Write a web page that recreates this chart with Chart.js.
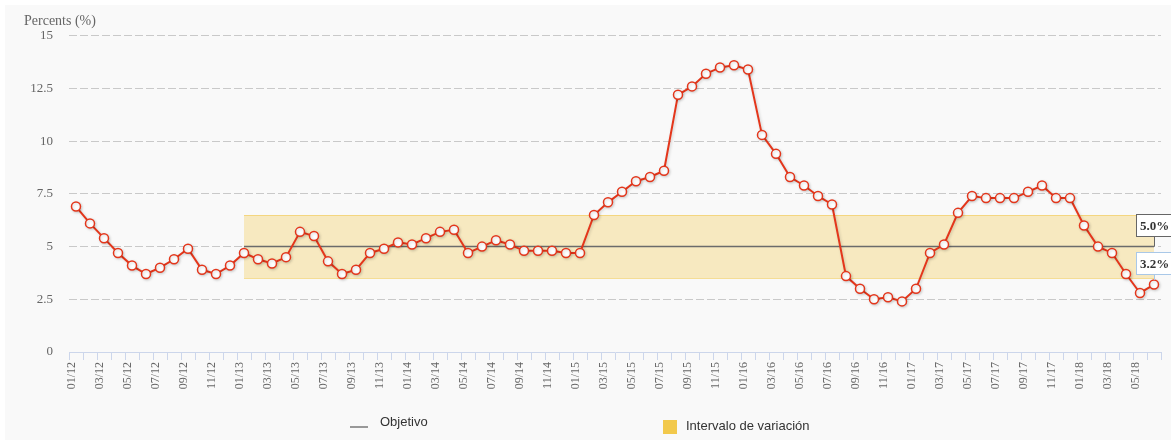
<!DOCTYPE html>
<html>
<head>
<meta charset="utf-8">
<title>Inflación</title>
<script src="https://cdn.jsdelivr.net/npm/chart.js@4.4.1/dist/chart.umd.min.js"></script>
<style>
  html, body { margin: 0; padding: 0; background: #fff; }
  #wrap { position: absolute; left: 5px; top: 5px; width: 1166px; height: 435px; background: #f9f9f9; }
  #chart { position: absolute; left: 0; top: 0; }
  .leg { position: absolute; font-family: "Liberation Sans", Arial, sans-serif; font-size: 13px; color: #333; line-height: 16px; white-space: nowrap; }
</style>
</head>
<body>
<div id="wrap"></div>
<canvas id="chart" width="1171" height="442"></canvas>

<div style="position:absolute;left:350px;top:426px;width:18px;height:2px;background:#999;"></div>
<div class="leg" style="left:380px;top:414px;">Objetivo</div>
<div style="position:absolute;left:663px;top:420px;width:14px;height:14px;background:#f2c94c;"></div>
<div class="leg" style="left:686px;top:418px;">Intervalo de variación</div>

<script>
// months, 01/12 .. 06/18
const meses = [
  '01/12','02/12','03/12','04/12','05/12','06/12','07/12','08/12','09/12','10/12','11/12','12/12',
  '01/13','02/13','03/13','04/13','05/13','06/13','07/13','08/13','09/13','10/13','11/13','12/13',
  '01/14','02/14','03/14','04/14','05/14','06/14','07/14','08/14','09/14','10/14','11/14','12/14',
  '01/15','02/15','03/15','04/15','05/15','06/15','07/15','08/15','09/15','10/15','11/15','12/15',
  '01/16','02/16','03/16','04/16','05/16','06/16','07/16','08/16','09/16','10/16','11/16','12/16',
  '01/17','02/17','03/17','04/17','05/17','06/17','07/17','08/17','09/17','10/17','11/17','12/17',
  '01/18','02/18','03/18','04/18','05/18','06/18'
];

// inflation, percent
const inflacion = [
  6.9, 6.1, 5.4, 4.7, 4.1, 3.7, 4.0, 4.4, 4.9, 3.9, 3.7, 4.1,
  4.7, 4.4, 4.2, 4.5, 5.7, 5.5, 4.3, 3.7, 3.9, 4.7, 4.9, 5.2,
  5.1, 5.4, 5.7, 5.8, 4.7, 5.0, 5.3, 5.1, 4.8, 4.8, 4.8, 4.7,
  4.7, 6.5, 7.1, 7.6, 8.1, 8.3, 8.6, 12.2, 12.6, 13.2, 13.5, 13.6,
  13.4, 10.3, 9.4, 8.3, 7.9, 7.4, 7.0, 3.6, 3.0, 2.5, 2.6, 2.4,
  3.0, 4.7, 5.1, 6.6, 7.4, 7.3, 7.3, 7.3, 7.6, 7.9, 7.3, 7.3,
  6.0, 5.0, 4.7, 3.7, 2.8, 3.2
];

// target and its tolerance band, in force from 01/13
const objetivo = 5;
const bandaInferior = 3.5;
const bandaSuperior = 6.5;
const inicioObjetivo = '01/13';

const yTicks = [0, 2.5, 5, 7.5, 10, 12.5, 15];

const desde = meses.indexOf(inicioObjetivo);
const hasta = meses.length - 1;
const serieObjetivo = meses.map((m, i) => i >= desde ? objetivo : null);

const tickColor = '#666666';
const axisColor = '#ccd6eb';

// yellow band behind the lines
const bandaPlugin = {
  id: 'banda',
  beforeDatasetsDraw(chart) {
    const { ctx, scales: { x, y } } = chart;
    const x0 = x.getPixelForValue(desde);
    const x1 = x.getPixelForValue(hasta);
    const yTop = y.getPixelForValue(bandaSuperior);
    const yBot = y.getPixelForValue(bandaInferior);
    ctx.save();
    ctx.fillStyle = 'rgba(242, 201, 76, 0.33)';
    ctx.fillRect(x0, yTop, x1 - x0, yBot - yTop);
    ctx.strokeStyle = 'rgba(242, 201, 76, 0.55)';
    ctx.lineWidth = 1;
    ctx.beginPath();
    ctx.moveTo(x0, Math.round(yTop) + 0.5);
    ctx.lineTo(x1, Math.round(yTop) + 0.5);
    ctx.moveTo(x0, Math.round(yBot) + 0.5);
    ctx.lineTo(x1, Math.round(yBot) + 0.5);
    ctx.stroke();
    ctx.restore();
  }
};

// boxed value labels on the last point of each line
const etiquetasPlugin = {
  id: 'etiquetas',
  afterDatasetsDraw(chart) {
    const { ctx } = chart;
    const cfg = [
      { ds: 1, color: '#666666', gap: 0 },
      { ds: 0, color: '#a9c8e8', gap: 4.5 }
    ];
    cfg.forEach(c => {
      const meta = chart.getDatasetMeta(c.ds);
      const data = chart.data.datasets[c.ds].data;
      const pt = meta.data[meta.data.length - 1];
      const val = data[data.length - 1];
      const w = 36, h = 22;
      const left = Math.round(pt.x - 18) + 0.5;
      const bottom = Math.round(pt.y - 11) + 0.5;
      const top = bottom - h;
      ctx.save();
      ctx.fillStyle = '#ffffff';
      ctx.fillRect(left, top, w, h);
      ctx.strokeStyle = c.color;
      ctx.lineWidth = 1;
      ctx.strokeRect(left, top, w, h);
      ctx.beginPath();
      ctx.moveTo(Math.round(pt.x) + 0.5, bottom);
      ctx.lineTo(Math.round(pt.x) + 0.5, pt.y - c.gap);
      ctx.stroke();
      ctx.fillStyle = '#333333';
      ctx.font = 'bold 13px "Liberation Serif"';
      ctx.textAlign = 'center';
      ctx.textBaseline = 'middle';
      ctx.fillText(val.toFixed(1) + '%', left + w / 2, top + h / 2 + 1);
      ctx.restore();
    });
  }
};

// soft shadow under the red line
const sombraPlugin = {
  id: 'sombra',
  beforeDatasetDraw(chart, args) {
    if (args.index !== 0) return;
    const ctx = chart.ctx;
    ctx.save();
    ctx.shadowColor = 'rgba(0,0,0,0.18)';
    ctx.shadowBlur = 3;
    ctx.shadowOffsetX = 1;
    ctx.shadowOffsetY = 1;
  },
  afterDatasetDraw(chart, args) {
    if (args.index !== 0) return;
    chart.ctx.restore();
  }
};

new Chart(document.getElementById('chart'), {
  type: 'line',
  data: {
    labels: meses,
    datasets: [
      {
        label: 'Inflación',
        data: inflacion,
        borderColor: '#e4361b',
        borderWidth: 2,
        pointRadius: 4.5,
        pointBorderWidth: 1.5,
        pointBackgroundColor: '#ffffff',
        pointBorderColor: '#e4361b',
        tension: 0,
        order: 0
      },
      {
        label: 'Objetivo',
        data: serieObjetivo,
        borderColor: '#6b6b6b',
        borderWidth: 1.5,
        pointRadius: 0,
        tension: 0,
        spanGaps: false,
        order: 1
      }
    ]
  },
  options: {
    responsive: false,
    animation: false,
    layout: { padding: { left: 24, right: 10, top: 0, bottom: 0 } },
    plugins: {
      legend: { display: false },
      tooltip: { enabled: false },
      title: {
        display: true,
        text: 'Percents (%)',
        align: 'start',
        color: tickColor,
        font: { family: '"Liberation Serif"', size: 14, weight: 'normal' },
        padding: { top: 13, bottom: 6 }
      }
    },
    scales: {
      x: {
        type: 'category',
        offset: true,
        grid: {
          offset: true,
          drawOnChartArea: false,
          drawTicks: true,
          tickLength: 8,
          color: axisColor
        },
        border: { display: true, color: axisColor, width: 1 },
        ticks: {
          autoSkip: false,
          maxRotation: 90,
          minRotation: 90,
          padding: 2,
          labelOffset: -4,
          color: tickColor,
          font: { family: '"Liberation Serif"', size: 12 },
          callback: (v, i) => i % 2 === 0 ? meses[i] : ''
        },
        afterFit: s => { s.height = 90; }
      },
      y: {
        min: 0,
        max: 15,
        afterBuildTicks: s => { s.ticks = yTicks.map(v => ({ value: v })); },
        grid: {
          drawTicks: false,
          color: ctx => ctx.tick && ctx.tick.value === 0 ? 'rgba(0,0,0,0)' : '#c9c9c9',
          lineWidth: 1
        },
        border: { display: false, dash: [8, 3] },
        ticks: {
          padding: 16,
          color: tickColor,
          font: { family: '"Liberation Serif"', size: 13 },
          callback: v => String(v)
        },
        afterFit: s => { s.width = 45; }
      }
    }
  },
  plugins: [bandaPlugin, etiquetasPlugin, sombraPlugin]
});
</script>
</body>
</html>
